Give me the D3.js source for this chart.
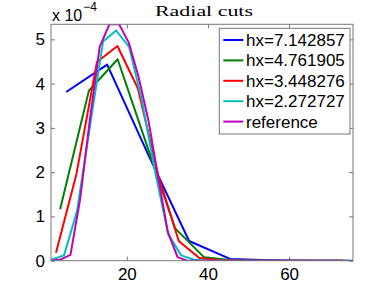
<!DOCTYPE html>
<html>
<head>
    <title>Radial cuts</title>
    <style>
        body { margin: 0; background: #fff; }
        .tick text { font-family: "Liberation Sans", Arial, sans-serif; font-size: 17px; fill: #000; }
        .tick line { stroke: #777; }
        .series { fill: none; stroke-width: 2; stroke-linejoin: round; }
        .legend text { font-family: "Liberation Sans", Arial, sans-serif; font-size: 17px; }
    </style>
</head>
<body>
    <div id="chart"></div>
    <script src="https://d3js.org/d3.v7.min.js"></script>
    <script>
        // values (y in units of 1e-4)
        const blueX = [5.05, 15.15, 25.25, 35.35, 45.45, 55.55, 65.65, 75.76];
        const blueY = [3.81, 4.43, 2.40, 0.445, 0.04, 0.01, 0.0, 0.0];

        const greenX = [3.55, 10.64, 17.73, 24.82, 31.91, 39.0, 46.09, 53.18, 60.27, 67.36, 74.45];
        const greenY = [1.16, 3.84, 4.55, 2.64, 0.73, 0.08, 0.01, 0, 0, 0, 0];

        const redX = [2.53, 7.58, 12.63, 17.68, 22.73, 27.78, 32.83, 37.88, 42.93, 47.98, 53.03, 58.08, 63.13, 68.18, 73.23];
        const redY = [0.18, 1.96, 4.49, 4.85, 3.89, 1.91, 0.44, 0.06, 0.01, 0, 0, 0, 0, 0, 0];

        const cyanX = [1.3, 4.51, 7.72, 10.93, 14.14, 17.35, 20.56, 23.77, 26.98, 30.19, 33.4, 36.61, 39.82,
                       43.03, 46.24, 49.45, 52.66, 55.87, 59.08, 62.29, 65.5, 68.71, 71.92];
        const cyanY = [0.02, 0.12, 1.12, 3.05, 4.95, 5.2, 4.83, 3.6, 2.0, 0.6, 0.12, 0.02, 0.0,
                       0, 0, 0, 0, 0, 0, 0, 0, 0, 0];

        const refX = [1.3, 3.7, 6.1, 8.5, 10.9, 13.3, 15.7, 18.1, 20.5, 22.9, 25.3, 27.7, 30.1, 32.5, 34.9,
                      37.3, 39.7, 42.1, 44.5, 46.9, 49.3, 51.7, 54.1, 56.5, 58.9, 61.3, 63.7, 66.1, 68.5, 70.9, 73.3];
        const refY = [0.0, 0.03, 0.13, 1.4, 3.2, 4.83, 5.34, 5.34, 4.92, 4.15, 3.18, 1.9, 0.65, 0.08, 0.0,
                      0, 0, 0, 0, 0, 0, 0, 0, 0, 0, 0, 0, 0, 0, 0, 0];

        const legendLabels = ["hx=7.142857", "hx=4.761905", "hx=3.448276", "hx=2.272727", "reference"];
        const colors = ["#0000ff", "#008000", "#ff0000", "#00bfbf", "#bf00bf"];
        const xTicks = [20, 40, 60];
        const yTicks = [0, 1, 2, 3, 4, 5];

        const series = [
            { x: blueX, y: blueY },
            { x: greenX, y: greenY },
            { x: redX, y: redY },
            { x: cyanX, y: cyanY },
            { x: refX, y: refY }
        ];

        const W = 390, H = 294;
        const pLeft = 51, pRight = 353, pTop = 24.3, pBottom = 260.7;

        const svg = d3.select("#chart").append("svg")
            .attr("width", W)
            .attr("height", H);

        const x = d3.scaleLinear().domain([1.3, 75.76]).range([pLeft, pRight]);
        const y = d3.scaleLinear().domain([0, 5.34]).range([pBottom, pTop]);

        svg.append("clipPath").attr("id", "clip")
            .append("rect")
            .attr("x", pLeft).attr("y", pTop)
            .attr("width", pRight - pLeft).attr("height", pBottom - pTop);

        // axes with inward ticks, MATLAB style
        svg.append("g")
            .attr("transform", "translate(0," + pBottom + ")")
            .call(d3.axisBottom(x).tickValues(xTicks).tickSize(-4).tickPadding(7))
            .call(g => g.select(".domain").remove());
        svg.append("g")
            .attr("transform", "translate(0," + pTop + ")")
            .call(d3.axisTop(x).tickValues(xTicks).tickSize(-4).tickFormat(""))
            .call(g => g.select(".domain").remove());
        svg.append("g")
            .attr("transform", "translate(" + pLeft + ",0)")
            .call(d3.axisLeft(y).tickValues(yTicks).tickSize(-4).tickPadding(6).tickFormat(d3.format("d")))
            .call(g => g.select(".domain").remove());
        svg.append("g")
            .attr("transform", "translate(" + pRight + ",0)")
            .call(d3.axisRight(y).tickValues(yTicks).tickSize(-4).tickFormat(""))
            .call(g => g.select(".domain").remove());

        svg.selectAll("g[font-family]").attr("font-family", null).attr("font-size", null);

        const line = d3.line()
            .x(d => x(d[0]))
            .y(d => y(d[1]));

        svg.append("g").attr("clip-path", "url(#clip)")
            .selectAll("path")
            .data(series)
            .enter().append("path")
            .attr("class", "series")
            .attr("stroke", (d, i) => colors[i])
            .attr("d", d => line(d.x.map((v, k) => [v, d.y[k]])));

        // box
        svg.append("rect")
            .attr("x", pLeft).attr("y", pTop)
            .attr("width", pRight - pLeft).attr("height", pBottom - pTop)
            .attr("fill", "none")
            .attr("stroke", "#777")
            .attr("stroke-width", 1);

        // exponent label
        const expo = svg.append("text")
            .attr("x", pLeft + 1)
            .attr("y", 21)
            .attr("font-family", "Liberation Sans, Arial, sans-serif")
            .attr("font-size", 16);
        expo.append("tspan").text("x 10");
        expo.append("tspan").attr("dy", -10).attr("dx", 1).attr("font-size", 12).text("\u22124");

        // title
        svg.append("text")
            .attr("x", (pLeft + pRight) / 2 + 2)
            .attr("y", 16)
            .attr("text-anchor", "middle")
            .attr("font-family", "Liberation Serif, DejaVu Serif, serif")
            .attr("font-size", 15)
            .attr("textLength", 98)
            .attr("lengthAdjust", "spacingAndGlyphs")
            .text("Radial cuts");

        // legend
        const legend = svg.append("g").attr("class", "legend");
        legend.append("rect")
            .attr("x", 219.3).attr("y", 28.3)
            .attr("width", 130.7).attr("height", 105.7)
            .attr("fill", "#fff")
            .attr("stroke", "#777");
        const rows = legend.selectAll("g.row")
            .data(legendLabels)
            .enter().append("g")
            .attr("class", "row")
            .attr("transform", (d, i) => "translate(0," + (40 + i * 20.4) + ")");
        rows.append("line")
            .attr("x1", 223.3).attr("x2", 243.3)
            .attr("stroke", (d, i) => colors[i])
            .attr("stroke-width", 2);
        rows.append("text")
            .attr("x", 246)
            .attr("y", 6)
            .text(d => d);
    </script>
</body>
</html>
